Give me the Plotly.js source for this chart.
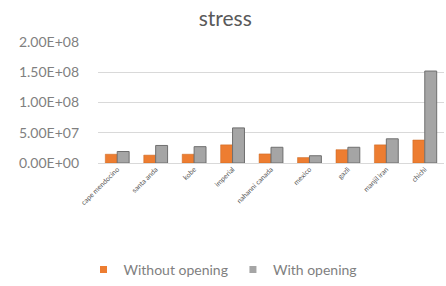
<!DOCTYPE html>
<html><head><meta charset="utf-8">
<script src="https://cdn.plot.ly/plotly-3.0.1.min.js"></script>
<style>html,body{margin:0;padding:0;background:#fff}#c{width:446px;height:286px}</style>
</head><body><div id="c"></div>
<script>
const categories = ["cape mendocino","santa anda","kobe","imperial","nahanni canada","mexico","gazli","manjil iran","chichi"];
const withoutOpening = [1.45e7, 1.3e7, 1.45e7, 3.0e7, 1.5e7, 9e6, 2.2e7, 3.0e7, 3.8e7];
const withOpening = [1.9e7, 2.9e7, 2.7e7, 5.8e7, 2.6e7, 1.2e7, 2.6e7, 4.0e7, 1.52e8];
const tickVals = [0, 5e7, 1e8, 1.5e8, 2e8];
const tickText = ["0.00E+00","5.00E+07","1.00E+08","1.50E+08","2.00E+08"];
const seriesNames = ["Without opening", "With opening"];
const seriesColors = ["#ED7D31", "#A5A5A5"];

const font = "Lato, 'Open Sans', sans-serif";
Plotly.newPlot("c", [
  {type:"bar", name:seriesNames[0], x:categories, y:withoutOpening, marker:{color:seriesColors[0], line:{color:"#c8641f", width:0.5}}, showlegend:false},
  {type:"bar", name:seriesNames[1], x:categories, y:withOpening, marker:{color:seriesColors[1], line:{color:"#6f6f6f", width:1}}, showlegend:false},
  {type:"scatter", mode:"markers", name:seriesNames[0], x:[null], y:[null], marker:{symbol:"square", size:7, color:seriesColors[0]}},
  {type:"scatter", mode:"markers", name:seriesNames[1], x:[null], y:[null], marker:{symbol:"square", size:7, color:seriesColors[1]}}
], {
  width:446, height:286,
  margin:{l:98, r:2, t:42, b:123},
  paper_bgcolor:"#fff", plot_bgcolor:"#fff",
  title:{text:"stress", x:0.505, xref:"container", xanchor:"center", y:0.935, yanchor:"middle", font:{family:font, size:21, color:"#595959"}},
  barmode:"group", bargap:0.38, bargroupgap:0,
  xaxis:{tickangle:-45, tickfont:{family:font, size:7, color:"#595959"}, showline:false, ticks:"", automargin:false},
  yaxis:{range:[0,2e8], tickvals:tickVals, ticktext:tickText, tickfont:{family:font, size:14, color:"#7f7f7f"},
         ticklabelstandoff:18,
         gridcolor:"#d9d9d9", zeroline:true, zerolinecolor:"#d9d9d9", ticks:"", ticklen:0, automargin:false},
  legend:{orientation:"h", x:0.5, xref:"container", xanchor:"center", y:0.0, yref:"container", yanchor:"bottom",
          itemwidth:30, font:{family:font, size:14, color:"#7f7f7f"}},
  showlegend:true
}, {displayModeBar:false, staticPlot:true});
</script></body></html>
